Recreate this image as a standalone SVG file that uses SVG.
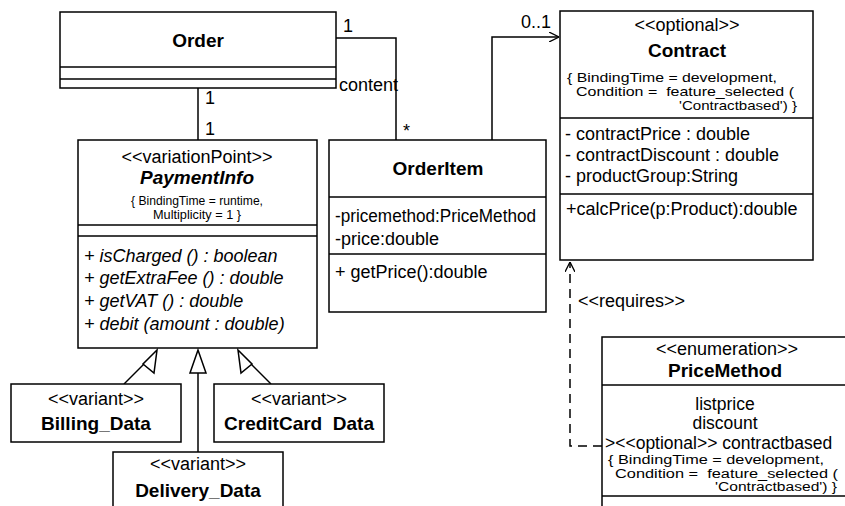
<svg xmlns="http://www.w3.org/2000/svg" width="845" height="506" viewBox="0 0 845 506">
<defs>
<marker id="open" viewBox="0 0 10 10" refX="10" refY="5" markerWidth="10" markerHeight="10" markerUnits="userSpaceOnUse" orient="auto">
<path d="M0,0 L10,5 L0,10" fill="none" stroke="#000" stroke-width="1.3"/>
</marker>
</defs>
<style>
rect{fill:#fff;stroke:#000;stroke-width:1.5}
line,path.c{stroke:#000;stroke-width:1.5;fill:none}
text{font-family:"Liberation Sans",Arial,sans-serif;fill:#000;font-size:18px;white-space:pre}
.b{font-weight:bold;font-size:19px}
.bi{font-weight:bold;font-style:italic;font-size:19px}
.m{text-anchor:middle}
.s{font-size:12.3px}
.k{font-size:12.8px}
.k2{font-size:12px}
.l{font-size:17.5px}
.i{font-style:italic}
.e{text-anchor:end}
.tri{fill:#fff;stroke:#000;stroke-width:1.5}
</style>
<rect x="-10" y="-10" width="865" height="526" style="fill:#fff;stroke:none"/>
<g id="connectors">
<line x1="198" y1="88" x2="198" y2="140"/>
<text x="205" y="104">1</text>
<text x="205" y="135">1</text>
<path class="c" d="M336,38 H396 V140"/>
<text x="343" y="32">1</text>
<text x="339" y="91">content</text>
<text x="403" y="137">*</text>
<path class="c" d="M492,140 V37 H559" marker-end="url(#open)"/>
<text x="521" y="28">0..1</text>
<path class="c" d="M602,446 H570 V262" stroke-dasharray="9,6" marker-end="url(#open)"/>
<text x="578" y="307">&lt;&lt;requires&gt;&gt;</text>
<line x1="124" y1="384" x2="150" y2="358"/>
<path class="tri" d="M157,350 L143,364 L154,373 Z"/>
<line x1="198" y1="452" x2="198" y2="373"/>
<path class="tri" d="M198,350 L190,373 L206,373 Z"/>
<line x1="271" y1="384" x2="245" y2="358"/>
<path class="tri" d="M238,350 L252,364 L241,373 Z"/>
</g>
<g id="order">
<rect x="60" y="12" width="276" height="76"/>
<line x1="60" y1="67" x2="336" y2="67"/>
<line x1="60" y1="79" x2="336" y2="79"/>
<text x="198" y="47" class="b m">Order</text>
</g>
<g id="paymentinfo">
<rect x="78" y="140" width="239" height="208"/>
<line x1="78" y1="225" x2="317" y2="225"/>
<line x1="78" y1="236" x2="317" y2="236"/>
<text x="197" y="163" class="m">&lt;&lt;variationPoint&gt;&gt;</text>
<text x="197" y="184" class="bi m">PaymentInfo</text>
<text x="197" y="205" class="s m" textLength="132" lengthAdjust="spacingAndGlyphs">{ BindingTime = runtime,</text>
<text x="197" y="219" class="s m" textLength="88" lengthAdjust="spacingAndGlyphs">Multiplicity = 1 }</text>
<text x="84" y="262" class="i">+ isCharged () : boolean</text>
<text x="84" y="284" class="i">+ getExtraFee () : double</text>
<text x="84" y="307" class="i">+ getVAT () : double</text>
<text x="84" y="330" class="i">+ debit (amount : double)</text>
</g>
<g id="orderitem">
<rect x="329" y="140" width="217" height="172"/>
<line x1="329" y1="197" x2="546" y2="197"/>
<line x1="329" y1="254" x2="546" y2="254"/>
<text x="438" y="175" class="b m">OrderItem</text>
<text x="335" y="222" textLength="201" lengthAdjust="spacingAndGlyphs">-pricemethod:PriceMethod</text>
<text x="335" y="245">-price:double</text>
<text x="335" y="278">+ getPrice():double</text>
</g>
<g id="contract">
<rect x="560" y="11" width="253" height="249"/>
<line x1="560" y1="118" x2="813" y2="118"/>
<line x1="560" y1="194" x2="813" y2="194"/>
<text x="687" y="31" class="m">&lt;&lt;optional&gt;&gt;</text>
<text x="687" y="57" class="b m">Contract</text>
<text x="567" y="82" class="k" textLength="210" lengthAdjust="spacingAndGlyphs">{ BindingTime = development,</text>
<text x="576" y="96" class="k" textLength="218" lengthAdjust="spacingAndGlyphs">Condition =  feature_selected (</text>
<text x="797" y="110" class="k e" textLength="118" lengthAdjust="spacingAndGlyphs">'Contractbased') }</text>
<text x="565" y="140">- contractPrice : double</text>
<text x="565" y="161">- contractDiscount : double</text>
<text x="565" y="182">- productGroup:String</text>
<text x="566" y="215">+calcPrice(p:Product):double</text>
</g>
<g id="billing">
<rect x="11" y="384" width="170" height="58"/>
<text x="96" y="405" class="m">&lt;&lt;variant&gt;&gt;</text>
<text x="96" y="430" class="b m">Billing_Data</text>
</g>
<g id="creditcard">
<rect x="214" y="384" width="170" height="58"/>
<text x="299" y="405" class="m">&lt;&lt;variant&gt;&gt;</text>
<text x="299" y="430" class="b m">CreditCard  Data</text>
</g>
<g id="delivery">
<rect x="113" y="452" width="170" height="70"/>
<text x="198" y="470" class="m">&lt;&lt;variant&gt;&gt;</text>
<text x="198" y="497" class="b m">Delivery_Data</text>
</g>
<g id="pricemethod">
<rect x="602" y="337" width="260" height="180"/>
<line x1="602" y1="385" x2="862" y2="385"/>
<line x1="602" y1="496" x2="862" y2="496"/>
<text x="727" y="355" class="m">&lt;&lt;enumeration&gt;&gt;</text>
<text x="725" y="377" class="b m">PriceMethod</text>
<text x="725" y="410" class="m l">listprice</text>
<text x="725" y="429" class="m l">discount</text>
<text x="605" y="449" class="l">&gt;&lt;&lt;optional&gt;&gt; contractbased</text>
<text x="608" y="464" class="k2" textLength="216" lengthAdjust="spacingAndGlyphs">{ BindingTime = development,</text>
<text x="615" y="477.5" class="k2" textLength="223" lengthAdjust="spacingAndGlyphs">Condition =  feature_selected (</text>
<text x="837" y="491" class="k2 e" textLength="122" lengthAdjust="spacingAndGlyphs">'Contractbased') }</text>
</g>
</svg>
